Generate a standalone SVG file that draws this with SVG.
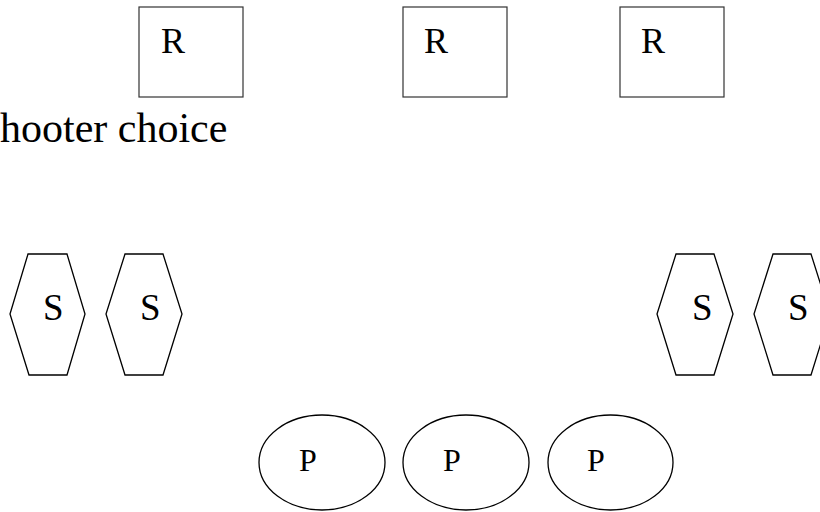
<svg xmlns="http://www.w3.org/2000/svg" width="820" height="512" viewBox="0 0 820 512">
<style>
text{font-family:"Liberation Serif","Times New Roman",Tinos,"DejaVu Serif",serif;fill:#000}
.r{fill:#fff;stroke:#333;stroke-width:1.2}
.s{fill:#fff;stroke:#000;stroke-width:1.3}
.p{fill:#fff;stroke:#000;stroke-width:1.3}
</style>
<rect width="820" height="512" fill="#fff"/>
<g id="r1"><rect class="r" x="139" y="7" width="104" height="90"/><text x="161" y="53" font-size="36">R</text></g>
<g id="r2"><rect class="r" x="403" y="7" width="104" height="90"/><text x="424" y="53" font-size="36">R</text></g>
<g id="r3"><rect class="r" x="620" y="7" width="104" height="90"/><text x="641" y="53" font-size="36">R</text></g>
<g id="label"><text x="0" y="142" font-size="42">hooter choice</text></g>
<g id="s1"><polygon class="s" points="28,254 67,254 85,314 67,375 29,375 10,314"/><text x="43" y="320" font-size="37">S</text></g>
<g id="s2"><polygon class="s" points="125,254 163,254 182,314 163,375 125,375 106,314"/><text x="140" y="320" font-size="37">S</text></g>
<g id="s3"><polygon class="s" points="676,254 714,254 733,314 714,375 676,375 657,314"/><text x="692" y="320" font-size="37">S</text></g>
<g id="s4"><polygon class="s" points="773,254 811,254 830,314 811,375 773,375 754,314"/><text x="788" y="320" font-size="37">S</text></g>
<g id="p1"><ellipse class="p" cx="322" cy="462.5" rx="63" ry="47.5"/><text x="299" y="471" font-size="32">P</text></g>
<g id="p2"><ellipse class="p" cx="466" cy="462.5" rx="63" ry="47.5"/><text x="443" y="471" font-size="32">P</text></g>
<g id="p3"><ellipse class="p" cx="610.5" cy="462.5" rx="62.5" ry="47.5"/><text x="587" y="471" font-size="32">P</text></g>
<g id="connectors"></g>
</svg>
